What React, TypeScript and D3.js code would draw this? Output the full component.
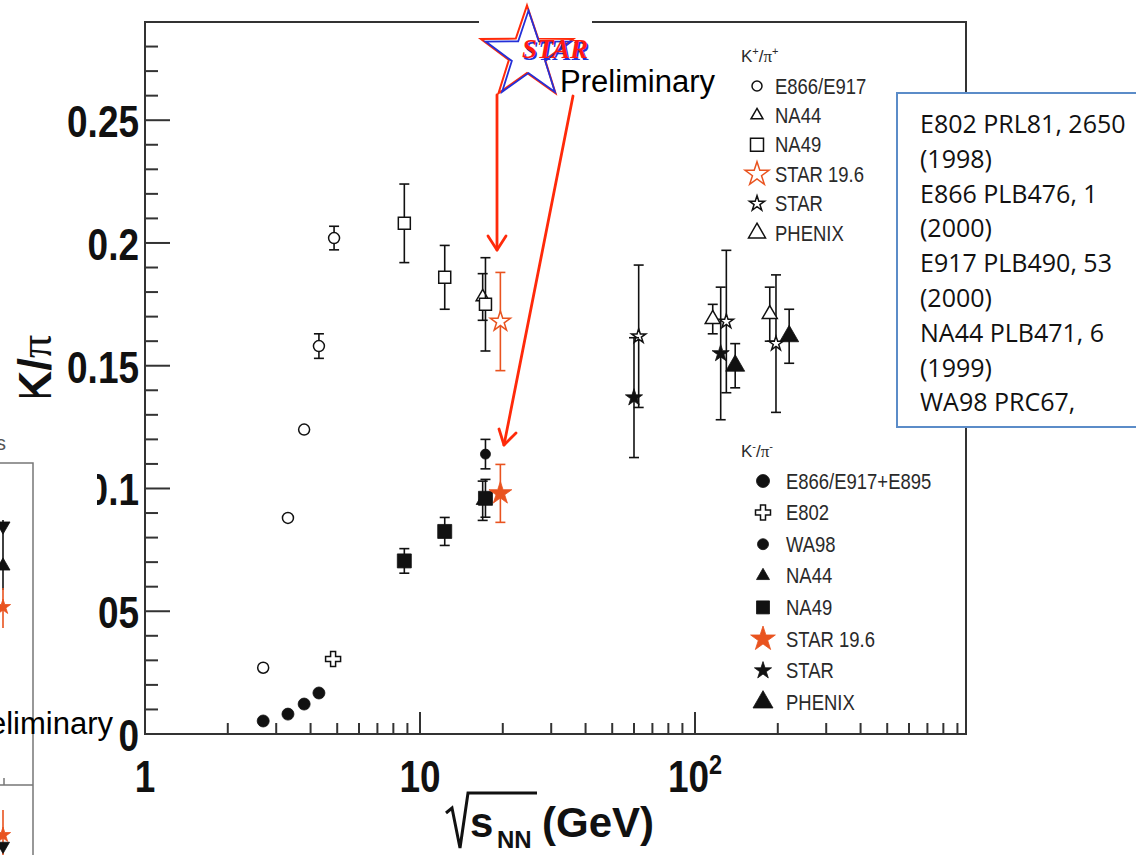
import React from "react";
import * as d3 from "d3";

// Each point: [sqrt(s_NN) in GeV, ratio, error]
type Pt = [number, number, number];

// K+/pi+
const kPlusE866: Pt[] = [[2.69, 0.027, 0], [3.31, 0.088, 0], [3.79, 0.124, 0], [4.29, 0.158, 0.005], [4.87, 0.202, 0.0048]];
const kPlusNA44: Pt[] = [[16.9, 0.178, 0.0095]];
const kPlusNA49: Pt[] = [[8.77, 0.208, 0.016], [12.3, 0.186, 0.013], [17.3, 0.175, 0.019]];
const kPlusStar196: Pt[] = [[19.6, 0.168, 0.02]];
const kPlusStar: Pt[] = [[62.4, 0.162, 0.029], [130, 0.168, 0.029], [197, 0.159, 0.028]];
const kPlusPhenix: Pt[] = [[116, 0.169, 0.006], [187, 0.171, 0.011]];

// K-/pi-
const kMinusE866: Pt[] = [[2.69, 0.0053, 0], [3.31, 0.0081, 0], [3.79, 0.0122, 0], [4.29, 0.0167, 0]];
const kMinusE802: Pt[] = [[4.83, 0.0305, 0]];
const kMinusWA98: Pt[] = [[17.3, 0.114, 0.006]];
const kMinusNA44: Pt[] = [[16.9, 0.095, 0.008]];
const kMinusNA49: Pt[] = [[8.77, 0.0705, 0.005], [12.3, 0.0825, 0.0057], [17.3, 0.096, 0.0077]];
const kMinusStar196: Pt[] = [[19.6, 0.098, 0.0118]];
const kMinusStar: Pt[] = [[60, 0.137, 0.0244], [124, 0.155, 0.027]];
const kMinusPhenix: Pt[] = [[140, 0.15, 0.009], [220, 0.162, 0.011]];

const yTicks = [0, 0.05, 0.1, 0.15, 0.2, 0.25];
const yTickLabels = ["0", "0.05", "0.1", "0.15", "0.2", "0.25"];
const xTicks = [1, 10, 100];

const kPlusLabels = ["E866/E917", "NA44", "NA49", "STAR 19.6", "STAR", "PHENIX"];
const kMinusLabels = ["E866/E917+E895", "E802", "WA98", "NA44", "NA49", "STAR 19.6", "STAR", "PHENIX"];

const refLines = [
  "E802 PRL81, 2650", "(1998)", "E866 PLB476, 1", "(2000)", "E917 PLB490, 53",
  "(2000)", "NA44 PLB471, 6", "(1999)", "WA98 PRC67,",
];

const BLACK = "#111";
const STAR_RED = "#e9531f";
const ARROW_RED = "#ff2a0a";

type Kind = "circle" | "square" | "triangle" | "star" | "cross" | "tridown";
interface Style { kind: Kind; size: number; filled: boolean; color: string; }

const symbolTypes: Record<string, d3.SymbolType> = {
  circle: d3.symbolCircle, square: d3.symbolSquare, triangle: d3.symbolTriangle,
  tridown: d3.symbolTriangle, star: d3.symbolStar, cross: d3.symbolCross,
};

function markerPath(kind: Kind, s: number): string {
  let area = 0;
  if (kind === "circle") area = Math.PI * (s / 2) ** 2;
  else if (kind === "square") area = s * s;
  else if (kind === "triangle" || kind === "tridown") area = (Math.sqrt(3) / 4) * s * s;
  else if (kind === "star") area = (s / 2) ** 2 / 0.8908130915292852;
  else if (kind === "cross") area = 5 * (s / 3) ** 2;
  return d3.symbol(symbolTypes[kind], area)() as string;
}

function Marker({ st, cx, cy }: { st: Style; cx: number; cy: number }) {
  const rot = st.kind === "tridown" ? " rotate(180)" : "";
  return (
    <path
      d={markerPath(st.kind, st.size)}
      transform={`translate(${cx},${cy})${rot}`}
      fill={st.filled ? st.color : "#fff"}
      stroke={st.color}
      strokeWidth={st.filled ? 0.8 : 1.5}
      strokeLinejoin="miter"
    />
  );
}

const plusStyles: Style[] = [
  { kind: "circle", size: 11, filled: false, color: BLACK },
  { kind: "triangle", size: 13, filled: false, color: BLACK },
  { kind: "square", size: 12, filled: false, color: BLACK },
  { kind: "star", size: 21, filled: false, color: STAR_RED },
  { kind: "star", size: 15, filled: false, color: BLACK },
  { kind: "triangle", size: 15, filled: false, color: BLACK },
];
const minusStyles: Style[] = [
  { kind: "circle", size: 12, filled: true, color: BLACK },
  { kind: "cross", size: 15, filled: false, color: BLACK },
  { kind: "circle", size: 10, filled: true, color: BLACK },
  { kind: "triangle", size: 13, filled: true, color: BLACK },
  { kind: "square", size: 14, filled: true, color: BLACK },
  { kind: "star", size: 24, filled: true, color: STAR_RED },
  { kind: "star", size: 18, filled: true, color: BLACK },
  { kind: "triangle", size: 19, filled: true, color: BLACK },
];
const plusLegendStyles: Style[] = [
  { kind: "circle", size: 10, filled: false, color: BLACK },
  { kind: "triangle", size: 12, filled: false, color: BLACK },
  { kind: "square", size: 13, filled: false, color: BLACK },
  { kind: "star", size: 25, filled: false, color: STAR_RED },
  { kind: "star", size: 16, filled: false, color: BLACK },
  { kind: "triangle", size: 17, filled: false, color: BLACK },
];
const minusLegendStyles: Style[] = [
  { kind: "circle", size: 13, filled: true, color: BLACK },
  { kind: "cross", size: 15, filled: false, color: BLACK },
  { kind: "circle", size: 11, filled: true, color: BLACK },
  { kind: "triangle", size: 13, filled: true, color: BLACK },
  { kind: "square", size: 13, filled: true, color: BLACK },
  { kind: "star", size: 26, filled: true, color: STAR_RED },
  { kind: "star", size: 18, filled: true, color: BLACK },
  { kind: "triangle", size: 20, filled: true, color: BLACK },
];

const plusData = [kPlusE866, kPlusNA44, kPlusNA49, kPlusStar196, kPlusStar, kPlusPhenix];
const minusData = [kMinusE866, kMinusE802, kMinusWA98, kMinusNA44, kMinusNA49, kMinusStar196, kMinusStar, kMinusPhenix];

function starPoints(cx: number, cy: number, R: number, r: number): string {
  return d3.range(10).map((i) => {
    const a = (i * Math.PI) / 5;
    const rad = i % 2 === 0 ? R : r;
    return `${cx + rad * Math.sin(a)},${cy - rad * Math.cos(a)}`;
  }).join(" ");
}

export default function App() {
  const x = d3.scaleLog().domain([1, 967]).range([145, 966]);
  const y = d3.scaleLinear().domain([0, 0.29]).range([734, 22]);

  const xMinor: number[] = [];
  [1, 10, 100].forEach((d) => d3.range(2, 10).forEach((k) => { if (k * d < 967) xMinor.push(k * d); }));
  const yMinor = d3.range(1, 29).map((i) => i / 100).filter((v) => Math.round(v * 100) % 5 !== 0);

  const axisFont = "'Liberation Sans', Arial, Helvetica, sans-serif";

  const renderSeries = (data: Pt[][], styles: Style[]) =>
    data.map((pts, si) => (
      <g key={si}>
        {pts.map(([e, v, err], i) => {
          const cx = x(e);
          const st = styles[si];
          return (
            <g key={i}>
              {err > 0 && (
                <g stroke={st.color} strokeWidth={1.6}>
                  <line x1={cx} x2={cx} y1={y(v - err)} y2={y(v + err)} />
                  <line x1={cx - 5} x2={cx + 5} y1={y(v - err)} y2={y(v - err)} />
                  <line x1={cx - 5} x2={cx + 5} y1={y(v + err)} y2={y(v + err)} />
                </g>
              )}
              <Marker st={st} cx={cx} cy={y(v)} />
            </g>
          );
        })}
      </g>
    ));

  const legendText = (tx: number, ty: number, label: string, key: string) => (
    <g key={key} transform={`translate(${tx},${ty}) scale(0.84,1)`}>
      <text fontFamily={axisFont} fontSize={22} fill="#2a2a2a" dominantBaseline="central">{label}</text>
    </g>
  );

  return (
    <svg width={1136} height={855} style={{ position: "absolute", left: 0, top: 0, background: "#fff" }}>
      <rect x={0} y={0} width={1136} height={855} fill="#fff" />

      {/* frame */}
      <path d="M145,734 H966 V22 H145 Z" fill="none" stroke="#333" strokeWidth={2} />

      {/* y ticks */}
      {yTicks.map((t) => (
        <line key={"yt" + t} x1={145} x2={170} y1={y(t)} y2={y(t)} stroke="#333" strokeWidth={2} />
      ))}
      {yMinor.map((t) => (
        <line key={"ym" + t} x1={145} x2={158} y1={y(t)} y2={y(t)} stroke="#333" strokeWidth={2} />
      ))}
      {/* x ticks */}
      {xTicks.slice(1).map((t) => (
        <line key={"xt" + t} x1={x(t)} x2={x(t)} y1={734} y2={712} stroke="#333" strokeWidth={2} />
      ))}
      {xMinor.map((t) => (
        <line key={"xm" + t} x1={x(t)} x2={x(t)} y1={734} y2={723} stroke="#333" strokeWidth={2} />
      ))}

      {/* y tick labels */}
      {yTicks.map((t, i) => (
        <g key={"yl" + t} transform={`translate(139,${y(t) + 17}) scale(0.84,1)`}>
          <text fontFamily={axisFont} fontWeight="bold" fontSize={44} textAnchor="end" fill="#111">{yTickLabels[i]}</text>
        </g>
      ))}
      {/* x tick labels */}
      {xTicks.map((t) => (
        <g key={"xl" + t} transform={`translate(${x(t)},792) scale(0.84,1)`}>
          <text fontFamily={axisFont} fontWeight="bold" fontSize={44} textAnchor="middle" fill="#111">
            {t === 100 ? (<>10<tspan fontSize={28} dy={-18}>2</tspan></>) : String(t)}
          </text>
        </g>
      ))}

      {/* x axis title */}
      <path d="M446,813 L452,808 L460,848 L468,793 H537" fill="none" stroke="#111" strokeWidth={3} />
      <text x={470} y={837} fontFamily={axisFont} fontWeight="bold" fontSize={42} fill="#111">s</text>
      <text x={497} y={848} fontFamily={axisFont} fontWeight="bold" fontSize={24} fill="#111">NN</text>
      <text x={542} y={837} fontFamily={axisFont} fontWeight="bold" fontSize={42} fill="#111">(GeV)</text>

      {/* y axis title */}
      <text transform="translate(51,404) rotate(-90)" fontFamily={axisFont} fontWeight="bold" fontSize={46} fill="#111">
        K/<tspan fontFamily="'Liberation Serif', serif" fontWeight="normal">π</tspan>
      </text>

      {/* neighbouring panel on the left */}
      <rect x={0} y={397} width={97} height={458} fill="#fff" />
      <text x={-4} y={450} fontFamily={axisFont} fontSize={20} fill="#555">s</text>
      <path d="M0,463 H33 V855 M0,785 H33 M4,785 V778" fill="none" stroke="#777" strokeWidth={1.5} />
      <line x1={3} x2={3} y1={520} y2={590} stroke={BLACK} strokeWidth={1.6} />
      <line x1={3} x2={3} y1={588} y2={628} stroke={STAR_RED} strokeWidth={1.6} />
      <Marker st={{ kind: "tridown", size: 14, filled: true, color: BLACK }} cx={3} cy={526} />
      <Marker st={{ kind: "triangle", size: 14, filled: true, color: BLACK }} cx={3} cy={566} />
      <Marker st={{ kind: "star", size: 16, filled: true, color: STAR_RED }} cx={3} cy={607} />
      <line x1={3} x2={3} y1={810} y2={855} stroke={STAR_RED} strokeWidth={1.6} />
      <Marker st={{ kind: "tridown", size: 13, filled: true, color: BLACK }} cx={3} cy={846} />
      <Marker st={{ kind: "star", size: 16, filled: true, color: STAR_RED }} cx={3} cy={835} />
      <text x={113} y={734} textAnchor="end" fontFamily={axisFont} fontSize={31} fill="#000">Preliminary</text>

      {/* data */}
      {renderSeries(plusData, plusStyles)}
      {renderSeries(minusData, minusStyles)}

      {/* K+/pi+ legend */}
      <text x={741} y={62} fontFamily={axisFont} fontSize={17} fill="#2a2a2a">
        K<tspan fontSize={11} dy={-7}>+</tspan><tspan dy={7}>/</tspan><tspan fontFamily="'Liberation Serif', serif">π</tspan><tspan fontSize={11} dy={-7}>+</tspan>
      </text>
      {kPlusLabels.map((lab, i) => {
        const ly = 86 + i * 29.4;
        return (
          <g key={"pl" + i}>
            <Marker st={plusLegendStyles[i]} cx={757} cy={ly} />
            {legendText(775, ly, lab, "plt" + i)}
          </g>
        );
      })}

      {/* K-/pi- legend */}
      <text x={741} y={457} fontFamily={axisFont} fontSize={17} fill="#2a2a2a">
        K<tspan fontSize={11} dy={-7}>-</tspan><tspan dy={7}>/</tspan><tspan fontFamily="'Liberation Serif', serif">π</tspan><tspan fontSize={11} dy={-7}>-</tspan>
      </text>
      {kMinusLabels.map((lab, i) => {
        const ly = 481 + i * 31.6;
        return (
          <g key={"ml" + i}>
            <Marker st={minusLegendStyles[i]} cx={763} cy={ly} />
            {legendText(786, ly, lab, "mlt" + i)}
          </g>
        );
      })}

      {/* STAR logo */}
      <rect x={479} y={0} width={113} height={98} fill="#fff" />
      <polygon points={starPoints(527, 54, 48.5, 19)} fill="none" stroke={ARROW_RED} strokeWidth={2} />
      <polygon points={starPoints(528.5, 55.5, 45, 17.5)} fill="none" stroke="#2430d8" strokeWidth={1.8} />
      <text x={523.5} y={59.5} fontFamily="'Liberation Serif', serif" fontWeight="bold" fontStyle="italic" fontSize={27} fill="#2430d8">STAR</text>
      <text x={522} y={58} fontFamily="'Liberation Serif', serif" fontWeight="bold" fontStyle="italic" fontSize={27} fill="#ff1a10">STAR</text>
      <text x={560} y={92} fontFamily={axisFont} fontSize={31} fill="#000">Preliminary</text>

      {/* arrows */}
      <g stroke={ARROW_RED} strokeWidth={2.8} fill="none" strokeLinecap="round" strokeLinejoin="round">
        <line x1={497} y1={95} x2={497} y2={250} />
        <path d="M488,236 L497,250 L506,236" />
        <line x1={573} y1={96} x2={504} y2={445} />
        <path d="M499,429 L504,445 L516,433" />
      </g>

      {/* reference box */}
      <rect x={897} y={93} width={260} height={334} fill="#fff" stroke="#5b8cc8" strokeWidth={2} />
      {refLines.map((l, i) => (
        <text key={"rl" + i} x={920} y={133 + i * 34.8} fontFamily="'Open Sans', 'Noto Sans', sans-serif" fontSize={25} fill="#111">{l}</text>
      ))}
    </svg>
  );
}
